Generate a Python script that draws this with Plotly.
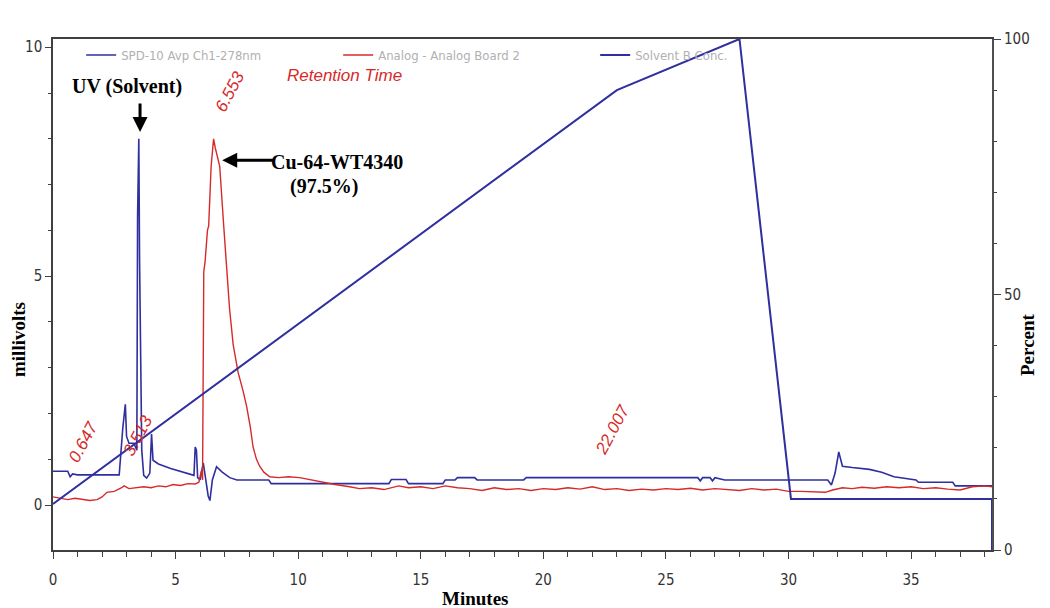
import plotly.graph_objects as go

# UV detector trace (SPD-10 Avp Ch1-278nm), millivolts
uv_time = [0.0, 0.6, 0.7, 0.8, 1.0, 2.7, 2.85, 2.95, 3.0, 3.1, 3.3, 3.42, 3.45, 3.5, 3.53, 3.58,
           3.62, 3.7, 3.82, 3.95, 4.02, 4.08, 4.3, 4.8, 5.3, 5.75, 5.8, 5.85, 5.9, 6.0, 6.13,
           6.25, 6.33, 6.4, 6.5, 6.67, 6.9, 7.21, 7.5, 8.8, 8.9, 13.7, 13.8, 14.4, 14.5, 15.9,
           16.0, 16.4, 16.5, 17.2, 17.3, 19.2, 19.3, 26.3, 26.4, 26.5, 26.8, 26.9, 27.0, 27.4,
           31.6, 31.75, 31.9, 32.05, 32.2, 32.6, 33.3, 33.8, 34.3, 35.2, 35.3, 36.7, 36.8, 38.3]
uv_mv = [0.74, 0.74, 0.62, 0.68, 0.66, 0.66, 1.7, 2.2, 1.5, 1.35, 1.35, 1.2, 6.3, 8.0, 5.4, 2.8,
         1.2, 0.65, 0.59, 0.7, 1.55, 0.98, 0.9, 0.8, 0.72, 0.65, 1.27, 1.2, 0.6, 0.55, 0.92,
         0.5, 0.2, 0.1, 0.55, 0.84, 0.72, 0.6, 0.55, 0.55, 0.47, 0.47, 0.56, 0.56, 0.47, 0.47,
         0.55, 0.55, 0.6, 0.6, 0.55, 0.55, 0.6, 0.6, 0.53, 0.6, 0.6, 0.53, 0.6, 0.55,
         0.55, 0.44, 0.7, 1.16, 0.85, 0.82, 0.78, 0.72, 0.62, 0.55, 0.5, 0.5, 0.42, 0.42]

# radio detector trace (Analog - Analog Board 2), millivolts
rad_time = [0.0, 0.3, 0.6, 0.9, 1.2, 1.5, 1.8, 2.0, 2.2, 2.5, 2.8, 2.9, 3.1, 3.4, 3.7, 4.0, 4.3,
            4.6, 4.9, 5.2, 5.5, 5.8, 5.95, 6.05, 6.1, 6.15, 6.2, 6.3, 6.35, 6.45, 6.55, 6.62,
            6.8, 6.95, 7.08, 7.2, 7.35, 7.55, 7.75, 7.9, 8.05, 8.16, 8.3, 8.43, 8.6, 8.84, 9.2,
            9.6, 10.06, 10.5, 11.0, 11.5, 12.1, 12.5, 13.0, 13.5, 14.1, 14.5, 15.0, 15.5, 16.0,
            16.5, 17.0, 17.5, 18.0, 18.5, 19.0, 19.5, 20.0, 20.5, 21.0, 21.5, 22.0, 22.5, 23.0,
            23.5, 24.0, 24.5, 25.0, 25.5, 26.0, 26.5, 27.0, 27.5, 28.0, 28.5, 29.0, 29.5, 30.0,
            30.5, 31.0, 31.5, 31.8, 32.2, 32.6, 33.0, 33.5, 34.0, 34.5, 35.0, 35.5, 36.0, 36.5,
            37.0, 37.5, 38.0, 38.3]
rad_mv = [0.18, 0.15, 0.12, 0.15, 0.12, 0.1, 0.12, 0.18, 0.28, 0.3, 0.38, 0.42, 0.36, 0.38, 0.4,
          0.38, 0.42, 0.4, 0.45, 0.43, 0.47, 0.46, 0.5, 0.75, 0.55, 5.1, 5.3, 6.0, 6.1, 7.4, 8.0,
          7.8, 7.4, 6.2, 5.2, 4.3, 3.5, 2.9, 2.5, 2.15, 1.7, 1.27, 1.0, 0.85, 0.72, 0.62, 0.6,
          0.62, 0.6, 0.55, 0.5, 0.45, 0.4, 0.36, 0.38, 0.34, 0.42, 0.38, 0.4, 0.36, 0.42,
          0.38, 0.36, 0.32, 0.38, 0.34, 0.36, 0.32, 0.36, 0.34, 0.38, 0.35, 0.4, 0.34, 0.36,
          0.32, 0.35, 0.33, 0.36, 0.34, 0.37, 0.33, 0.36, 0.34, 0.32, 0.36, 0.33, 0.35, 0.3,
          0.3, 0.29, 0.28, 0.33, 0.38, 0.36, 0.39, 0.37, 0.4, 0.38, 0.4, 0.36, 0.38, 0.35,
          0.33, 0.4, 0.42, 0.4]

# solvent B gradient, percent
grad_time = [0.0, 23.0, 28.0, 30.1, 38.3, 38.3]
grad_pct = [9, 90, 100, 10, 10, 0]

# retention time labels: (text, minutes, mV)
rt_labels = [("0.647", 1.26, 1.38), ("3.513", 3.46, 1.53), ("6.553", 7.21, 9.04), ("22.007", 22.82, 1.66)]

serif = "Liberation Serif, Times New Roman, serif"
narrow = "Liberation Sans Narrow, DejaVu Sans Condensed, Arial Narrow, sans-serif"
blue = "#2f2f9f"
red = "#d62a2a"

fig = go.Figure()
fig.add_trace(go.Scatter(x=uv_time, y=uv_mv, mode="lines", name="SPD-10 Avp Ch1-278nm",
                         line=dict(color=blue, width=1.6)))
fig.add_trace(go.Scatter(x=rad_time, y=rad_mv, mode="lines", name="Analog - Analog Board 2",
                         line=dict(color=red, width=1.4)))
fig.add_trace(go.Scatter(x=grad_time, y=grad_pct, mode="lines", name="Solvent B Conc.", yaxis="y2",
                         line=dict(color=blue, width=2)))

for txt, x, y in rt_labels:
    fig.add_annotation(x=x, y=y, text=txt, showarrow=False, textangle=-62,
                       font=dict(family="Liberation Sans, Arial, sans-serif", size=17, color=red, style="italic"))

fig.add_annotation(x=11.9, y=9.39, text="Retention Time", showarrow=False,
                   font=dict(family="Liberation Sans, Arial, sans-serif", size=17, color=red, style="italic"))

# peak labels and arrows
fig.add_annotation(x=3.0, y=9.15, text="<b>UV (Solvent)</b>", showarrow=False,
                   font=dict(family=serif, size=20, color="black"))
fig.add_annotation(x=3.55, y=8.15, text="", showarrow=True, ax=0, ay=-30,
                   arrowhead=2, arrowwidth=3, arrowsize=1, arrowcolor="black")
fig.add_annotation(x=11.6, y=7.5, text="<b>Cu-64-WT4340</b>", showarrow=False,
                   font=dict(family=serif, size=20, color="black"))
fig.add_annotation(x=11.05, y=6.95, text="<b>(97.5%)</b>", showarrow=False,
                   font=dict(family=serif, size=20, color="black"))
fig.add_annotation(x=6.9, y=7.53, text="", showarrow=True, ax=53, ay=0,
                   arrowhead=2, arrowwidth=3, arrowsize=1, arrowcolor="black")

# axis titles
title_font = dict(family=serif, size=19, color="black")
fig.add_annotation(xref="paper", yref="paper", x=(18 - 53) / 939, y=(550 - 340) / 511,
                   xanchor="center", yanchor="middle", text="<b>millivolts</b>",
                   showarrow=False, textangle=-90, font=title_font)
fig.add_annotation(xref="paper", yref="paper", x=(1027 - 53) / 939, y=(550 - 345) / 511,
                   xanchor="center", yanchor="middle", text="<b>Percent</b>",
                   showarrow=False, textangle=-90, font=title_font)
fig.add_annotation(xref="paper", yref="paper", x=(475 - 53) / 939, y=(550 - 598) / 511,
                   xanchor="center", yanchor="middle", text="<b>Minutes</b>",
                   showarrow=False, font=title_font)

tickfont = dict(family=narrow, size=15, color="#333333")

# page body adds an 8 px offset, so the figure is shrunk to fit the window
fig.update_layout(
    width=1042, height=600,
    margin=dict(l=45, r=58, t=31, b=58),
    paper_bgcolor="white", plot_bgcolor="white",
    showlegend=True,
    legend=dict(orientation="h", x=0.03, y=0.998, xanchor="left", yanchor="top",
                entrywidth=212, entrywidthmode="pixels", bgcolor="rgba(0,0,0,0)",
                font=dict(family=narrow, size=13, color="#b0b0b0"), itemwidth=30),
    xaxis=dict(range=[0, 38.3], showgrid=False, zeroline=False, showline=True, linecolor="#404040",
               linewidth=2, mirror=True, ticks="outside", ticklen=7, tickcolor="#404040",
               tick0=0, dtick=5, tickfont=tickfont, ticklabelstandoff=8,
               minor=dict(dtick=1, ticks="outside", ticklen=5, tickcolor="#404040")),
    yaxis=dict(range=[-0.98, 10.18], showgrid=False, zeroline=False, showline=True, linecolor="#404040",
               linewidth=1.5, ticks="outside", ticklen=6, tickcolor="#404040",
               tick0=0, dtick=5, tickfont=tickfont,
               minor=dict(dtick=1, ticks="outside", ticklen=3, tickcolor="#404040")),
    yaxis2=dict(range=[0, 100], overlaying="y", side="right", showgrid=False, zeroline=False,
                showline=True, linecolor="#505050", linewidth=2, ticks="outside", ticklen=7,
                tickcolor="#404040", tick0=0, dtick=50, tickfont=tickfont,
                minor=dict(dtick=10, ticks="outside", ticklen=3, tickcolor="#404040")),
)

fig.write_html("out.html")
